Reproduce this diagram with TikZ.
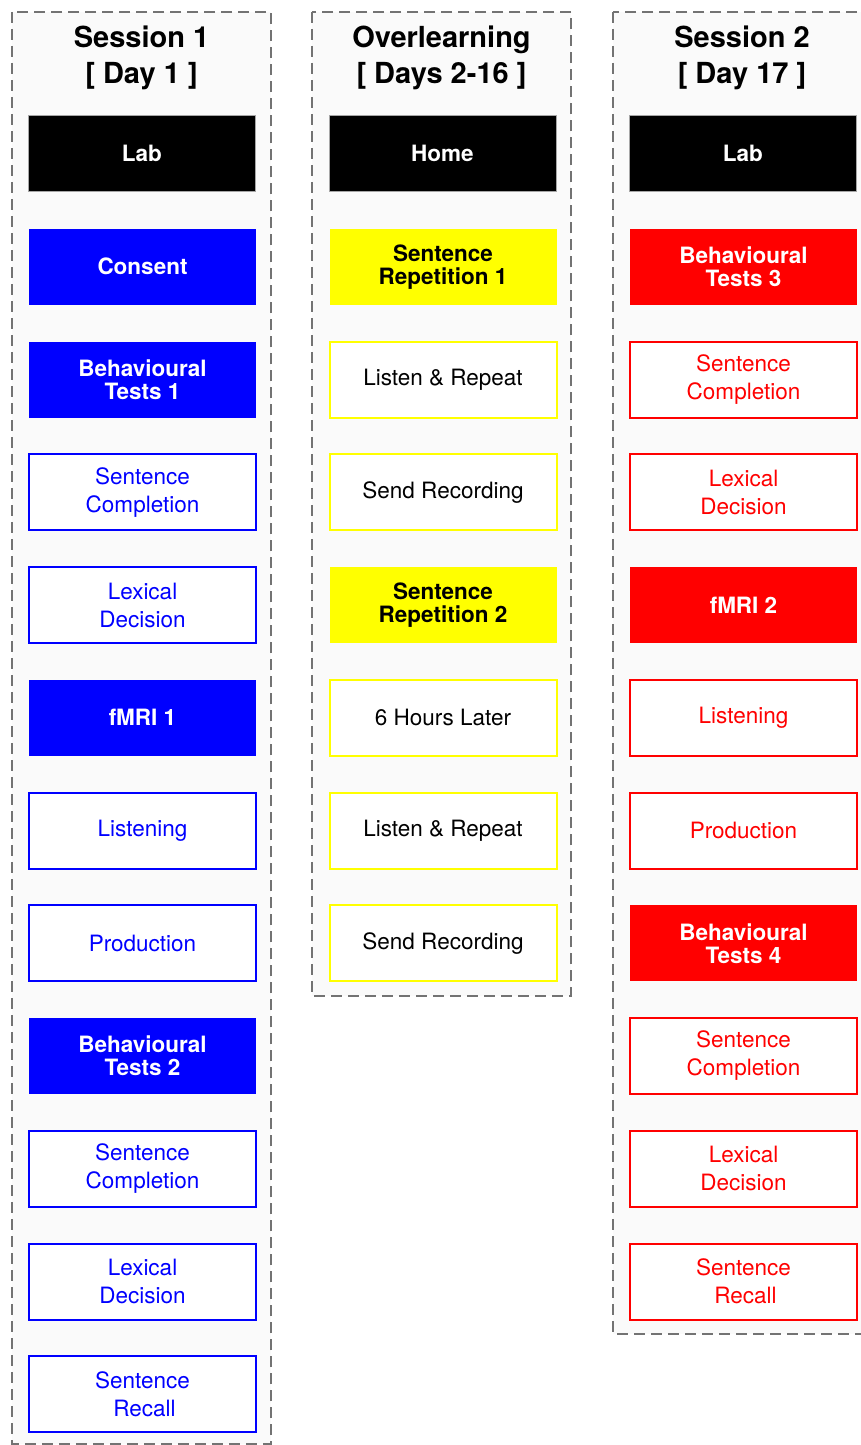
\documentclass[tikz,border=0pt]{standalone}
\usepackage{fontspec}
\setmainfont{TeX Gyre Heros}
\definecolor{pblue}{RGB}{0,0,255}
\definecolor{pred}{RGB}{255,0,0}
\definecolor{pyel}{RGB}{255,255,0}
\definecolor{dashgray}{RGB}{115,115,115}
\definecolor{panelbg}{RGB}{250,250,250}
\tikzset{
  panel/.style={draw=dashgray, fill=panelbg, line width=1.6pt, dash pattern=on 11pt off 6pt},
  ttl/.style={font=\fontsize{29}{36}\selectfont\bfseries, align=center},
  boxbase/.style={anchor=north west, minimum width=227pt, minimum height=76pt, inner sep=0pt, line width=2pt, align=center},
  solidb/.style={boxbase, font=\fontsize{22.5}{23}\selectfont\bfseries},
  outb/.style={boxbase, fill=white, font=\fontsize{22.5}{28}\selectfont},
  labb/.style={solidb, fill=black, draw=gray!70, line width=0.8pt, text=white},
  sblue/.style={solidb, fill=pblue, text=white},
  oblue/.style={outb, draw=pblue, text=pblue},
  syel/.style={solidb, fill=pyel, text=black},
  oyel/.style={outb, draw=pyel, text=black},
  sred/.style={solidb, fill=pred, text=white},
  ored/.style={outb, draw=pred, text=pred},
}
\begin{document}
\begin{tikzpicture}[x=1pt,y=-1pt]
\useasboundingbox (0,0) rectangle (861,1445);
\fill[white] (0,0) rectangle (861,1445);
\begin{scope}
\clip (0,0) rectangle (861,1445);
\draw[panel] (12,12) rectangle (271,1444);
\draw[panel] (312,12) rectangle (571,996);
\draw[panel] (613,12) rectangle (875,1334);
\end{scope}
% titles
\node[ttl] (t1) at (141.5,58) {Session 1\\{[} Day 1 ]};
\node[ttl] (t2) at (441.5,58) {Overlearning\\{[} Days 2-16 ]};
\node[ttl] (t3) at (742,58) {Session 2\\{[} Day 17 ]};
% column 1
\node[labb]  (a1)  at (28,115)     {Lab};
\node[sblue] (a2)  at (28,227.75)  {Consent};
\node[sblue] (a3)  at (28,340.5)   {Behavioural\\Tests 1};
\node[oblue] (a4)  at (28,453.25)  {Sentence\\Completion};
\node[oblue] (a5)  at (28,566)     {Lexical\\Decision};
\node[sblue] (a6)  at (28,678.75)  {fMRI 1};
\node[oblue] (a7)  at (28,791.5)   {Listening};
\node[oblue] (a8)  at (28,904.25)  {Production};
\node[sblue] (a9)  at (28,1017)    {Behavioural\\Tests 2};
\node[oblue] (a10) at (28,1129.75) {Sentence\\Completion};
\node[oblue] (a11) at (28,1242.5)  {Lexical\\Decision};
\node[oblue] (a12) at (28,1355.25) {Sentence\\\hspace*{4pt}Recall};
% column 2
\node[labb] (b1) at (328.5,115)     {Home};
\node[syel] (b2) at (328.5,227.75)  {Sentence\\Repetition 1};
\node[oyel] (b3) at (328.5,340.5)   {Listen \& Repeat};
\node[oyel] (b4) at (328.5,453.25)  {Send Recording};
\node[syel] (b5) at (328.5,566)     {Sentence\\Repetition 2};
\node[oyel] (b6) at (328.5,678.75)  {6 Hours Later};
\node[oyel] (b7) at (328.5,791.5)   {Listen \& Repeat};
\node[oyel] (b8) at (328.5,904.25)  {Send Recording};
% column 3
\node[labb] (c1)  at (629,115)     {Lab};
\node[sred] (c2)  at (629,227.75)  {Behavioural\\Tests 3};
\node[ored] (c3)  at (629,340.5)   {Sentence\\Completion};
\node[ored] (c4)  at (629,453.25)  {Lexical\\Decision};
\node[sred] (c5)  at (629,566)     {fMRI 2};
\node[ored] (c6)  at (629,678.75)  {Listening};
\node[ored] (c7)  at (629,791.5)   {Production};
\node[sred] (c8)  at (629,904.25)  {Behavioural\\Tests 4};
\node[ored] (c9)  at (629,1017)    {Sentence\\Completion};
\node[ored] (c10) at (629,1129.75) {Lexical\\Decision};
\node[ored] (c11) at (629,1242.5)  {Sentence\\\hspace*{4pt}Recall};
\end{tikzpicture}
\end{document}
